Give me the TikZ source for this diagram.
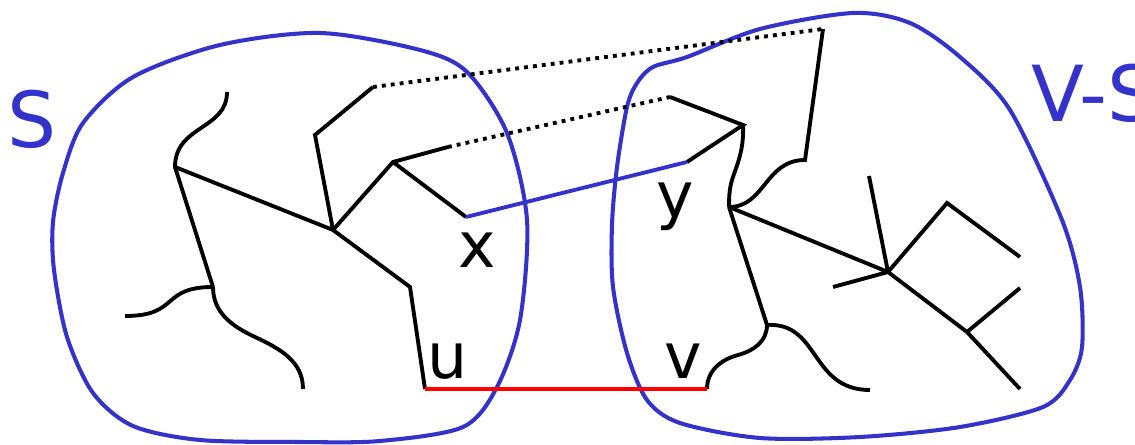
\documentclass[tikz,border=0pt]{standalone}
\usepackage{fontspec}
\setmainfont{DejaVu Sans}
\usepackage{xcolor}
\usetikzlibrary{calc}
\definecolor{setblue}{RGB}{51,51,204}

\begin{document}
\begin{tikzpicture}[x = 0.02cm, y = -0.02cm]
  \tikzset{tree/.style = {line width = 2.2pt}, blob/.style = {line width = 2.3pt, draw = setblue},
    nontree/.style = {tree, dash pattern = on 2.2pt off 2.9pt},
    vlabel/.style = {inner sep = 0, font = \fontsize{36}{40}\selectfont},
    setlabel/.style = {inner sep = 0, text = setblue, font = \fontsize{44}{48}\selectfont}}
  \useasboundingbox (0,0) rectangle (1135,445);

  % the two sides of the cut
  \draw[blob] plot[smooth cycle] coordinates {(320,33) (420,50) (467,72) (507,133) (527,220) (520,320) (497,387) (463,427) (380,441) (300,442) (200,440) (133,426) (93,393) (67,337) (54,270) (53,222) (63,173) (83,123) (133,77) (220,45)};
  \draw[blob] plot[smooth cycle] coordinates {(853,13) (910,23) (960,57) (1010,110) (1062,220) (1080,287) (1082,347) (1070,380) (1043,407) (960,427) (860,437) (760,438) (680,423) (647,400) (627,353) (613,287) (612,225) (617,167) (627,107) (637,83) (653,67) (687,57) (760,29)};

  \node[setlabel, anchor = base west] (S) at (7,148) {S};
  \node[setlabel, anchor = base west] (VS) at (1031,122) {V-S};

  % tree in S
  \coordinate (a0) at (227,92);  \coordinate (a) at (175,167);
  \coordinate (b) at (333,230);  \coordinate (c) at (315,135);  \coordinate (d) at (373,87);
  \coordinate (e) at (393,162);  \coordinate (f) at (448,147);  \coordinate (xe) at (466,217);
  \coordinate (k) at (410,287);  \coordinate (ue) at (425,389);
  \coordinate (l) at (213,287);  \coordinate (l1) at (125,316);  \coordinate (l2) at (303,389);

  % tree in V-S
  \coordinate (g0) at (823,29);  \coordinate (g1) at (805,160);
  \coordinate (g) at (670,97);   \coordinate (h) at (743,125);  \coordinate (i) at (687,162);
  \coordinate (m) at (729,207);  \coordinate (n) at (888,272);
  \coordinate (n1) at (869,176); \coordinate (n2) at (833,287);
  \coordinate (p) at (947,203);  \coordinate (p1) at (1020,257);
  \coordinate (q) at (967,332);  \coordinate (q1) at (1020,288); \coordinate (q2) at (1020,389);
  \coordinate (r) at (767,325);  \coordinate (r1) at (870,390);  \coordinate (ve) at (707,389);

  \draw[tree] (a0) .. controls (227,130) and (175,125) .. (a) -- (b) -- (c) -- (d);
  \draw[tree] (a) -- (l) (b) -- (e) -- (f) (e) -- (xe) (b) -- (k) -- (ue);
  \draw[tree] (l) .. controls (160,287) and (180,316) .. (l1);
  \draw[tree] (l) to[out = -90, in = 155] (255,337) to[out = -25, in = 90] (l2);

  \draw[tree] (g0) -- (g1) .. controls (765,160) and (765,207) .. (m);
  \draw[tree] (g) -- (h) -- (i);
  \draw[tree] (h) to[out = -88, in = 70] (734,174) to[out = 250, in = 90] (m);
  \draw[tree] (m) -- (n) -- (n1) (n) -- (n2) (n) -- (p) -- (p1) (n) -- (q) -- (q1) (q) -- (q2);
  \draw[tree] (m) -- (r) .. controls (820,322) and (810,390) .. (r1);
  \draw[tree] (r) to[out = -90, in = 15] (738,355) to[out = 195, in = 90] (ve);

  % edges across the cut
  \draw[nontree] (d) -- (g0) (f) -- (g);
  \draw[tree, setblue] (xe) -- (i);
  \draw[tree, red] (ue) -- (ve);

  \node[vlabel, anchor = base] (xl) at (477,268) {x};
  \node[vlabel, anchor = base] (yl) at (675,218) {y};
  \node[vlabel, anchor = base] (ul) at (448,378) {u};
  \node[vlabel, anchor = base] (vl) at (683,379) {v};
\end{tikzpicture}
\end{document}
